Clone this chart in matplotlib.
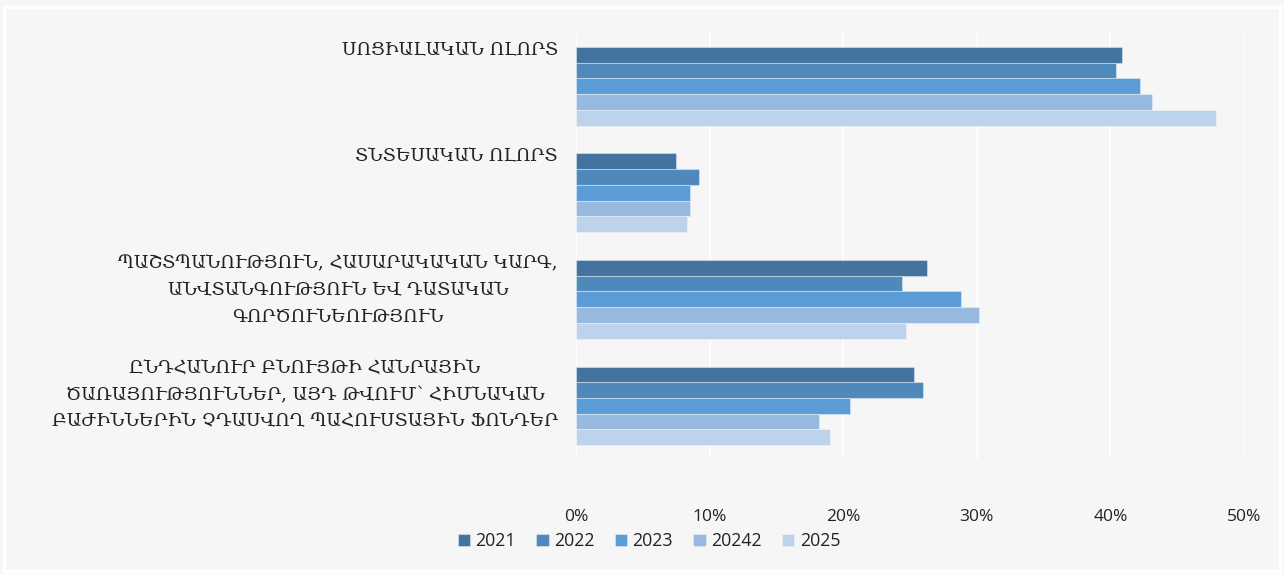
import numpy as np
import matplotlib.pyplot as plt
from matplotlib.patches import Rectangle
from matplotlib.ticker import PercentFormatter
from matplotlib.transforms import blended_transform_factory

categories = [
    'ՍՈՑԻԱԼԱԿԱՆ ՈԼՈՐՏ',
    'ՏՆՏԵՍԱԿԱՆ ՈԼՈՐՏ',
    'ՊԱՇՏՊԱՆՈՒԹՅՈՒՆ, ՀԱՍԱՐԱԿԱԿԱՆ ԿԱՐԳ,\nԱՆՎՏԱՆԳՈՒԹՅՈՒՆ ԵՎ ԴԱՏԱԿԱՆ\nԳՈՐԾՈՒՆԵՈՒԹՅՈՒՆ',
    'ԸՆԴՀԱՆՈՒՐ ԲՆՈՒՅԹԻ ՀԱՆՐԱՅԻՆ\nԾԱՌԱՅՈՒԹՅՈՒՆՆԵՐ, ԱՅԴ ԹՎՈՒՄ՝ ՀԻՄՆԱԿԱՆ\nԲԱԺԻՆՆԵՐԻՆ ՉԴԱՍՎՈՂ ՊԱՀՈՒՍՏԱՅԻՆ ՖՈՆԴԵՐ',
]
series_names = ['2021', '2022', '2023', '20242', '2025']
v2021 = [40.9, 7.5, 26.3, 25.3]
v2022 = [40.4, 9.2, 24.4, 26.0]
v2023 = [42.2, 8.5, 28.8, 20.5]
v2024 = [43.1, 8.5, 30.2, 18.2]
v2025 = [47.9, 8.3, 24.7, 19.0]
series = [v2021, v2022, v2023, v2024, v2025]
colors = ['#43739E', '#4F89BB', '#5B9BD6', '#97B9E0', '#BDD2EB']

bg = '#F6F6F6'
fig = plt.figure(figsize=(12.84, 5.74), dpi=100, facecolor=bg)
fig.patches.append(Rectangle((0.003, 0.005), 0.994, 0.982, transform=fig.transFigure,
                             fill=False, edgecolor='white', linewidth=2.5))
ax = fig.add_axes([0.4486, 0.2003, 0.5202, 0.7422])
ax.set_facecolor(bg)

y = np.arange(len(categories))
h = 0.1475
for j, (name, vals) in enumerate(zip(series_names, series)):
    ax.barh(y + (j - 2) * h, vals, height=h, color=colors[j], label=name,
            edgecolor=(1, 1, 1, 0.35), linewidth=0.8, zorder=3)

ax.set_xlim(0, 50)
ax.set_ylim(len(categories) - 0.5, -0.5)
ax.set_xticks(np.arange(0, 51, 10))
ax.xaxis.set_major_formatter(PercentFormatter(decimals=0))
ax.grid(axis='x', color='white', linewidth=1.2, zorder=0)
for s in ax.spines.values():
    s.set_visible(False)
ax.tick_params(axis='x', length=0, pad=36, labelsize=12.5, labelcolor='#222222')
ax.set_yticks([])
for lbl in ax.get_xticklabels():
    lbl.set_family('Open Sans')

# category labels sit a bit above the group centre, like the original
label_shift = [-0.34, -0.34, -0.085, -0.10]
trans = blended_transform_factory(ax.transAxes, ax.transData)
for i, cat in enumerate(categories):
    ax.text(-0.027, y[i] + label_shift[i], cat, transform=trans, ha='right', va='center',
            multialignment='center', fontsize=13.1, family='DejaVu Serif',
            color='#222222', linespacing=1.6)

leg = fig.legend(loc='center', bbox_to_anchor=(0.5055, 0.057), ncol=5, frameon=False,
                 handlelength=0.69, handleheight=0.69, handletextpad=0.3, columnspacing=1.15,
                 prop={'family': 'Open Sans', 'size': 12.8})
for t in leg.get_texts():
    t.set_color('#222222')

fig.savefig('out.png', dpi=100, facecolor=bg)
